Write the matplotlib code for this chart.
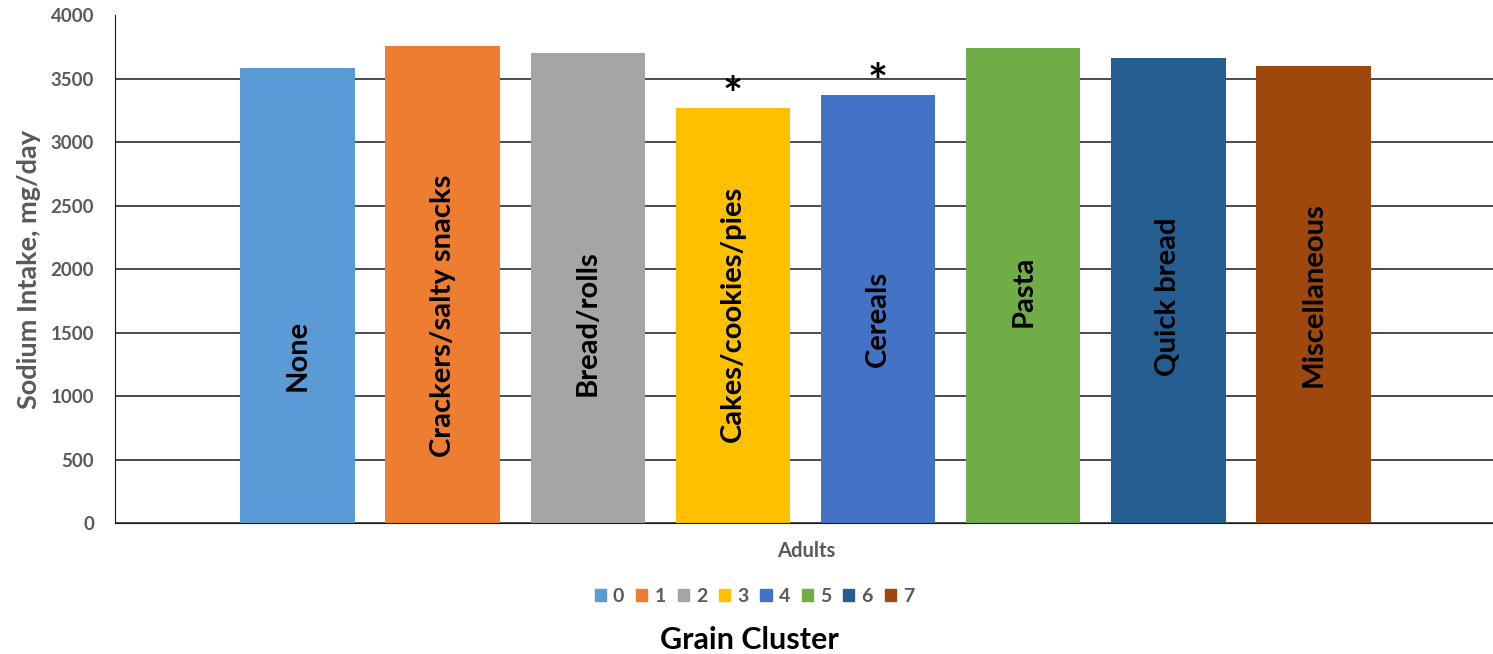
import matplotlib.pyplot as plt
import matplotlib.patches as mpatches

clusters = ['0', '1', '2', '3', '4', '5', '6', '7']
names = ['None', 'Crackers/salty snacks', 'Bread/rolls', 'Cakes/cookies/pies',
         'Cereals', 'Pasta', 'Quick bread', 'Miscellaneous']
sodium = [3588, 3759, 3704, 3273, 3375, 3743, 3665, 3602]
significant = [False, False, False, True, True, False, False, False]
colors = ['#5B9BD5', '#ED7D31', '#A5A5A5', '#FFC000',
          '#4472C4', '#70AD47', '#255E91', '#9E480E']
# vertical centre of the rotated name inside each bar (data units)
name_y = [1317, 1631, 1576, 1646, 1607, 1827, 1787, 1803]

plt.rcParams['font.family'] = ['Lato', 'DejaVu Sans']
gray = '#595959'

fig = plt.figure(figsize=(14.93, 6.54), dpi=100)
ax = fig.add_axes([115 / 1493, 1 - 523 / 654, 1 - 115 / 1493, (523 - 15.5) / 654])

x = range(len(sodium))
ax.bar(x, sodium, width=0.789, color=colors, zorder=2)

for i, v in enumerate(sodium):
    ax.text(i, name_y[i], names[i], rotation=90, ha='center', va='center',
            fontsize=21, fontweight='bold', color='black', zorder=3)
    if significant[i]:
        ax.annotate('*', (i, v), xytext=(0, -8), textcoords='offset points',
                    ha='center', va='bottom', fontsize=34, fontweight='bold')

ax.set_xlim(-1.258, 8.237)
ax.set_ylim(0, 4000)
ax.set_yticks(range(0, 4001, 500))
ax.yaxis.grid(True, color='#1a1a1a', linewidth=1.1, zorder=0)
ax.set_axisbelow(True)
ax.set_xticks([])
for s in ['top', 'right']:
    ax.spines[s].set_visible(False)
ax.spines['left'].set_color('#1a1a1a')
ax.spines['bottom'].set_color('#1a1a1a')
ax.tick_params(axis='y', length=0, pad=15, labelsize=13.5, labelcolor=gray)
for lbl in ax.get_yticklabels():
    lbl.set_fontweight('bold')
ax.set_ylabel('Sodium Intake, mg/day', fontsize=19.5, fontweight='bold', color=gray)
ax.yaxis.set_label_coords(-0.0537, 0.5)

fig.text(806 / 1493, 1 - 551 / 654, 'Adults', ha='center', va='center',
         fontsize=14.5, fontweight='bold', color=gray)

handles = [mpatches.Patch(color=c, label=k) for c, k in zip(colors, clusters)]
leg = fig.legend(handles=handles, loc='center', bbox_to_anchor=(754.5 / 1493, 1 - 596 / 654),
                 ncol=8, frameon=False, handlelength=0.57, handleheight=0.57,
                 handletextpad=0.36, columnspacing=0.62,
                 prop={'size': 14, 'weight': 'bold'})
for t in leg.get_texts():
    t.set_color(gray)

fig.text(749.5 / 1493, 1 - 640 / 654, 'Grain Cluster', ha='center', va='center',
         fontsize=22, fontweight='bold', color='black')

fig.savefig('out.png', dpi=100)
